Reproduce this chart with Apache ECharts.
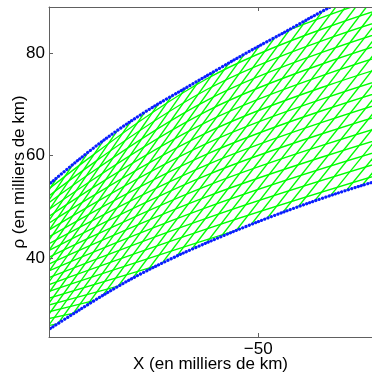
<!DOCTYPE html>
<html>
<head>
<meta charset="utf-8">
<script src="https://cdn.jsdelivr.net/npm/echarts@6/dist/echarts.min.js"></script>
<style>
  html, body { margin: 0; padding: 0; background: #fff; }
  #chart { width: 372px; height: 374px; }
</style>
</head>
<body>
<div id="chart"></div>
<script>
// axis ranges (milliers de km)
var xMin = -90.8, xMax = -27.8, yMin = 24.6, yMax = 89;
var xTicks = [-50];
var yTicks = [40, 60, 80];

// enveloppes (points bleus)
var envX      = [-95, -90.8, -85, -80, -75, -70, -65, -60, -55, -50, -45, -40, -35, -30, -25];
var topRho    = [50.9, 54.4, 59.2, 63.1, 66.6, 69.8, 72.7, 75.6, 78.5, 81.3, 84.0, 86.8, 89.5, 92.0, 94.5];
var bottomRho = [23.4, 26.1, 29.8, 32.9, 35.8, 38.4, 40.8, 43.0, 45.1, 47.1, 49.0, 50.8, 52.5, 54.1, 55.6];

// famille raide : X ou rho = 20 et X ou rho = 92
var steepRhoLow = 20, steepRhoHigh = 92;
var steepXLow  = [-114.3, -113.1, -111.9, -110.7, -109.4, -108.2, -107.0, -105.7, -104.3, -103.0,
                  -101.6, -100.2, -98.8, -97.3, -95.8, -94.3, -92.8, -91.3, -89.7, -88.1,
                  -86.5, -84.8, -83.1, -81.4, -79.6, -77.8, -76.0, -74.1, -72.2, -70.2,
                  -68.2, -66.2, -64.1, -62.0, -59.9, -57.9, -55.8, -53.7];
var steepXHigh = [-66.3, -64.9, -63.4, -61.9, -60.4, -58.9, -57.4, -55.8, -54.2, -52.6,
                  -50.9, -49.2, -47.4, -45.7, -43.9, -42.1, -40.2, -38.4, -36.5, -34.6,
                  -32.6, -30.7, -28.7, -26.6, -24.5, -22.3, -20.2, -17.9, -15.7, -13.3,
                  -10.9, -8.6, -6.1, -3.6, -1.1, 1.4, 3.9, 6.3];

// famille plate : rho a X = -95, -60 et -25
var flatX = [-95, -60, -25];
var flatRhoLeft  = [22.5, 23.7, 24.9, 26.1, 27.3, 28.5, 29.7, 30.9, 32.1, 33.3,
                    34.5, 35.7, 36.9, 38.1, 39.3, 40.5, 41.7, 42.9, 44.1, 45.3,
                    46.5, 47.7, 48.9, 50.1, 51.3, 52.5, 53.7, 54.9];
var flatRhoMid   = [26.9, 29.0, 31.1, 33.2, 35.3, 37.4, 39.4, 41.5, 43.6, 45.7,
                    47.8, 49.9, 52.0, 54.1, 56.2, 58.2, 60.3, 62.4, 64.5, 66.6,
                    68.7, 70.8, 72.9, 75.0, 77.1, 79.2, 81.2, 83.3];
var flatRhoRight = [36.0, 38.3, 40.6, 42.9, 45.2, 47.5, 49.8, 52.1, 54.4, 56.7,
                    59.0, 61.3, 63.6, 65.9, 68.2, 70.5, 72.8, 75.1, 77.4, 79.7,
                    82.0, 84.3, 86.6, 88.9, 91.2, 93.5, 95.8, 98.1];

var GREEN = '#00ff00';
var BLUE = '#0a1eff';
var FONT = 'Liberation Sans';

function pairs(xs, ys) {
    return xs.map(function (x, i) { return [x, ys[i]]; });
}

var series = [];

steepXLow.forEach(function (x0, i) {
    series.push({
        type: 'line',
        data: [[x0, steepRhoLow], [steepXHigh[i], steepRhoHigh]],
        symbol: 'none',
        silent: true,
        z: 2,
        lineStyle: { color: GREEN, width: 1.4 }
    });
});

flatRhoLeft.forEach(function (r0, i) {
    series.push({
        type: 'line',
        data: pairs(flatX, [r0, flatRhoMid[i], flatRhoRight[i]]),
        symbol: 'none',
        silent: true,
        smooth: 0.4,
        z: 2,
        lineStyle: { color: GREEN, width: 1.4 }
    });
});

// masques blancs hors de la bande
series.push({
    type: 'line',
    data: pairs(envX, topRho),
    symbol: 'none',
    silent: true,
    smooth: 0.3,
    z: 3,
    lineStyle: { width: 0 },
    areaStyle: { color: '#fff', opacity: 1, origin: 'end' }
});
series.push({
    type: 'line',
    data: pairs(envX, bottomRho),
    symbol: 'none',
    silent: true,
    smooth: 0.3,
    z: 3,
    lineStyle: { width: 0 },
    areaStyle: { color: '#fff', opacity: 1, origin: 'start' }
});

// enveloppes en pointilles bleus
[topRho, bottomRho].forEach(function (ys) {
    series.push({
        type: 'line',
        data: pairs(envX, ys),
        symbol: 'none',
        silent: true,
        smooth: 0.3,
        z: 4,
        lineStyle: { color: BLUE, width: 3.2, type: [0.1, 3.3], cap: 'round' }
    });
});

var axisLineStyle = { color: '#606060', width: 1 };

// bandes blanches : cachent ce qui deborde du cadre
function cover(x, y, w, h) {
    return { type: 'rect', z: 4.5, silent: true, shape: { x: x, y: y, width: w, height: h }, style: { fill: '#fff' } };
}

var chart = echarts.init(document.getElementById('chart'), null, { renderer: 'canvas' });
chart.setOption({
    animation: false,
    grid: { left: 49, right: 0, top: 7, bottom: 37, outerBoundsMode: 'none', containLabel: false },
    graphic: [
        cover(40, 0, 332, 7),
        cover(44, 0, 5, 345),
        cover(40, 337, 332, 4)
    ],
    xAxis: [{
        type: 'value',
        min: xMin, max: xMax,
        z: 5,
        name: 'X (en milliers de km)',
        nameLocation: 'middle',
        nameGap: 19,
        nameMoveOverlap: false,
        nameTextStyle: { fontFamily: FONT, fontSize: 17, color: '#000' },
        axisLine: { show: true, lineStyle: axisLineStyle },
        axisTick: { show: true, inside: true, length: 4, customValues: xTicks, lineStyle: axisLineStyle },
        axisLabel: {
            customValues: xTicks, margin: 4,
            fontFamily: FONT, fontSize: 17, color: '#000',
            formatter: function (v) { return String(v).replace('-', '\u2212'); }
        },
        splitLine: { show: false }
    }, {
        type: 'value',
        position: 'top',
        min: xMin, max: xMax,
        z: 5,
        axisLine: { show: true, lineStyle: axisLineStyle },
        axisTick: { show: true, inside: true, length: 4, customValues: xTicks, lineStyle: axisLineStyle },
        axisLabel: { show: false },
        splitLine: { show: false }
    }],
    yAxis: {
        type: 'value',
        min: yMin, max: yMax,
        z: 5,
        name: '\u03c1 (en milliers de km)',
        nameLocation: 'middle',
        nameGap: 21,
        nameMoveOverlap: false,
        nameRotate: 90,
        nameTextStyle: { fontFamily: FONT, fontSize: 17, color: '#000' },
        axisLine: { show: true, lineStyle: axisLineStyle },
        axisTick: { show: true, inside: true, length: 4, customValues: yTicks, lineStyle: axisLineStyle },
        axisLabel: { customValues: yTicks, margin: 4, fontFamily: FONT, fontSize: 17, color: '#000' },
        splitLine: { show: false }
    },
    series: series
});
</script>
</body>
</html>
